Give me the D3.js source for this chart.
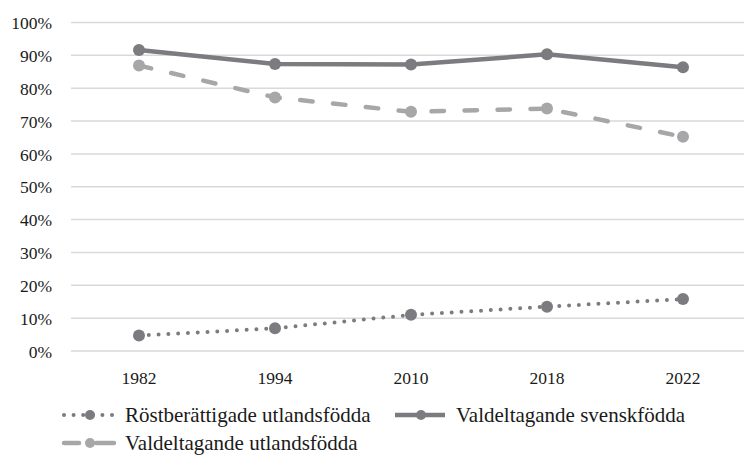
<!DOCTYPE html>
<html>
<head>
<meta charset="utf-8">
<script src="https://cdn.jsdelivr.net/npm/d3@7"></script>
<style>
	body { margin: 0; background: #fff; }
</style>
</head>
<body>
<div id="chart-area"></div>
<script>
// categories (election years)
const years = ["1982", "1994", "2010", "2018", "2022"];

// series values (share, 0-1)
const rostberattigade = [0.047, 0.069, 0.110, 0.135, 0.158];
const svenskfodda = [0.916, 0.874, 0.872, 0.903, 0.864];
const utlandsfodda = [0.869, 0.772, 0.728, 0.738, 0.652];

// y ticks
const yTicks = [0, 0.1, 0.2, 0.3, 0.4, 0.5, 0.6, 0.7, 0.8, 0.9, 1.0];

const series = [
	{ name: "Röstberättigade utlandsfödda", values: rostberattigade, color: "#7c7c80", dash: "0,9.8", legendDash: "0,9.6", width: 4 },
	{ name: "Valdeltagande svenskfödda", values: svenskfodda, color: "#7c7c80", dash: null, legendDash: null, width: 4.5 },
	{ name: "Valdeltagande utlandsfödda", values: utlandsfodda, color: "#a7a7a9", dash: "12.5,20.5", legendDash: "15,17,18", width: 4.5 }
];

const FONT = "'Liberation Serif', 'Times New Roman', serif";
const width = 744, height = 455;

let svg = d3.select("#chart-area").append("svg")
	.attr("width", width)
	.attr("height", height);

// scales
let x = d3.scaleBand()
	.domain(years)
	.range([71, 751])
	.padding(0);

let y = d3.scaleLinear()
	.domain([0, 1])
	.range([351, 22.5]);

// gridlines
svg.append("g")
	.selectAll("line")
	.data(yTicks)
	.enter()
	.append("line")
	.attr("x1", 71)
	.attr("x2", 751)
	.attr("y1", d => y(d))
	.attr("y2", d => y(d))
	.attr("stroke", "#d9d9d9")
	.attr("stroke-width", 1.5);

// y axis labels
let yAxis = d3.axisLeft(y)
	.tickValues(yTicks)
	.tickFormat(d3.format(".0%"))
	.tickSize(0)
	.tickPadding(0);

svg.append("g")
	.attr("transform", "translate(52,0)")
	.call(yAxis)
	.call(g => g.select(".domain").remove())
	.selectAll("text")
	.style("font-family", FONT)
	.style("font-size", "17.5px")
	.style("fill", "#1a1a1a")
	.attr("dy", "0.35em");

// x axis labels
let xAxis = d3.axisBottom(x)
	.tickSize(0)
	.tickPadding(0);

svg.append("g")
	.attr("transform", "translate(0,372)")
	.call(xAxis)
	.call(g => g.select(".domain").remove())
	.selectAll("text")
	.style("font-family", FONT)
	.style("font-size", "17.5px")
	.style("fill", "#1a1a1a");

// lines
let line = d3.line()
	.x((d, i) => x(years[i]) + x.bandwidth() / 2)
	.y(d => y(d));

series.forEach(s => {
	svg.append("path")
		.datum(s.values)
		.attr("d", line)
		.attr("fill", "none")
		.attr("stroke", s.color)
		.attr("stroke-width", s.width)
		.attr("stroke-linecap", "round")
		.attr("stroke-linejoin", "round")
		.attr("stroke-dasharray", s.dash);

	svg.append("g")
		.selectAll("circle")
		.data(s.values)
		.enter()
		.append("circle")
		.attr("cx", (d, i) => x(years[i]) + x.bandwidth() / 2)
		.attr("cy", d => y(d))
		.attr("r", 6)
		.attr("fill", s.color);
});

// legend
const legendPos = [
	{ x: 62, y: 415 },
	{ x: 393, y: 415 },
	{ x: 62, y: 443 }
];

series.forEach((s, i) => {
	let g = svg.append("g")
		.attr("transform", "translate(" + legendPos[i].x + "," + legendPos[i].y + ")");

	g.append("line")
		.attr("x1", 2)
		.attr("x2", 52)
		.attr("y1", 0)
		.attr("y2", 0)
		.attr("stroke", s.color)
		.attr("stroke-width", s.width)
		.attr("stroke-linecap", s.legendDash ? "round" : "butt")
		.attr("stroke-dasharray", s.legendDash);

	g.append("circle")
		.attr("cx", 28)
		.attr("cy", 0)
		.attr("r", 5)
		.attr("fill", s.color);

	g.append("text")
		.attr("x", 63)
		.attr("y", 0)
		.attr("dy", "0.33em")
		.style("font-family", FONT)
		.style("font-size", "21px")
		.style("fill", "#1a1a1a")
		.text(s.name);
});
</script>
</body>
</html>
